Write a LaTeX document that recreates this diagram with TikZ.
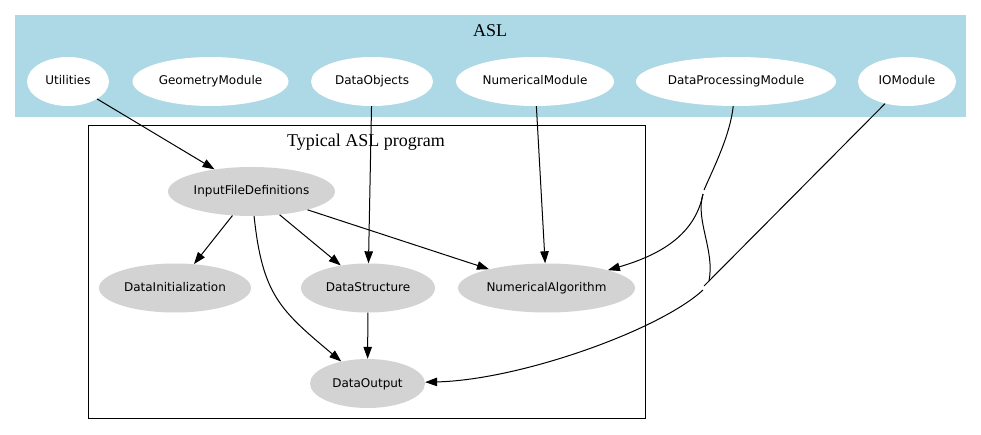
\documentclass[tikz,border=0pt]{standalone}
\usepackage{fontspec}
\setmainfont{Liberation Serif}
\newfontfamily\modfont{DejaVu Sans}
\usepackage{tikz}
\usepackage{xcolor}
\usetikzlibrary{shapes.geometric, arrows.meta}
\definecolor{aslcolor}{RGB}{173,216,230}
\definecolor{progcolor}{RGB}{211,211,211}
\tikzstyle{arrow} = [-{Triangle[length=12pt,width=8.5pt]}, line width=1pt]
\tikzstyle{link} = [line width=1pt]
\tikzstyle{module} = [ellipse, fill=white, inner sep=0pt, minimum height=49pt, text height=9pt, text depth=2pt, font=\modfont\fontsize{12}{14}\selectfont]
\tikzstyle{part} = [module, fill=progcolor]
\tikzstyle{clustertitle} = [anchor=base, inner sep=0pt, font=\fontsize{18}{21}\selectfont]

\begin{document}
\begin{tikzpicture}[x=1pt, y=1pt]
    \useasboundingbox (0,0) rectangle (981,-435);

    % ASL cluster
    \fill[aslcolor] (15,-15) rectangle (966,-117);
    \node[clustertitle] (asl_title) at (490,-37) {ASL};

    % Modules
    \node[module, minimum width=82pt] (utilities) at (68,-81.5) {Utilities};
    \node[module, minimum width=156pt] (geometry) at (210.5,-81.5) {GeometryModule};
    \node[module, minimum width=122pt] (dataobjects) at (372,-81.5) {DataObjects};
    \node[module, minimum width=158pt] (numericalmod) at (535,-81.5) {NumericalModule};
    \node[module, minimum width=200pt] (dataprocessing) at (736,-81.5) {DataProcessingModule};
    \node[module, minimum width=98pt] (iomodule) at (907,-81.5) {IOModule};

    % Typical program cluster
    \draw[line width=1pt] (88,-126) rectangle (645,-418);
    \node[clustertitle] (prog_title) at (366,-146.5) {Typical ASL program};

    % Program parts
    \node[part, minimum width=167pt] (inputdefs) at (251.5,-191.5) {InputFileDefinitions};
    \node[part, minimum width=152pt] (datainit) at (175,-288) {DataInitialization};
    \node[part, minimum width=134pt] (datastructure) at (368,-288) {DataStructure};
    \node[part, minimum width=177pt] (numericalalg) at (546.5,-288) {NumericalAlgorithm};
    \node[part, minimum width=115pt] (dataoutput) at (367.5,-383.5) {DataOutput};

    % Connectors
    \draw[arrow] (utilities) -- (inputdefs);
    \draw[arrow] (dataobjects) -- (datastructure);
    \draw[arrow] (numericalmod) -- (numericalalg);
    \draw[arrow] (inputdefs) -- (datainit);
    \draw[arrow] (inputdefs) -- (datastructure);
    \draw[arrow] (inputdefs) -- (numericalalg);
    \draw[arrow] (inputdefs) to[out=-84, in=140, looseness=1.2] (dataoutput);
    \draw[arrow] (datastructure) -- (dataoutput);

    % Edges from the right-hand modules, broken where they meet
    \coordinate (dp_top) at (704,-190);
    \coordinate (dp_bot) at (703,-194);
    \coordinate (io_top) at (704,-286);
    \coordinate (io_bot) at (703,-290);
    \coordinate (io_join) at (709,-281);
    \draw[link] (dataprocessing) .. controls (730,-135) and (715,-165) .. (dp_top);
    \draw[arrow] (dp_bot) .. controls (695,-235) and (660,-255) .. (numericalalg);
    \draw[link] (dp_bot) .. controls (695,-220) and (715,-250) .. (io_join);
    \draw[link] (iomodule) -- (io_top);
    \draw[arrow] (io_bot) .. controls (660,-330) and (520,-380) .. (dataoutput);
\end{tikzpicture}
\end{document}
